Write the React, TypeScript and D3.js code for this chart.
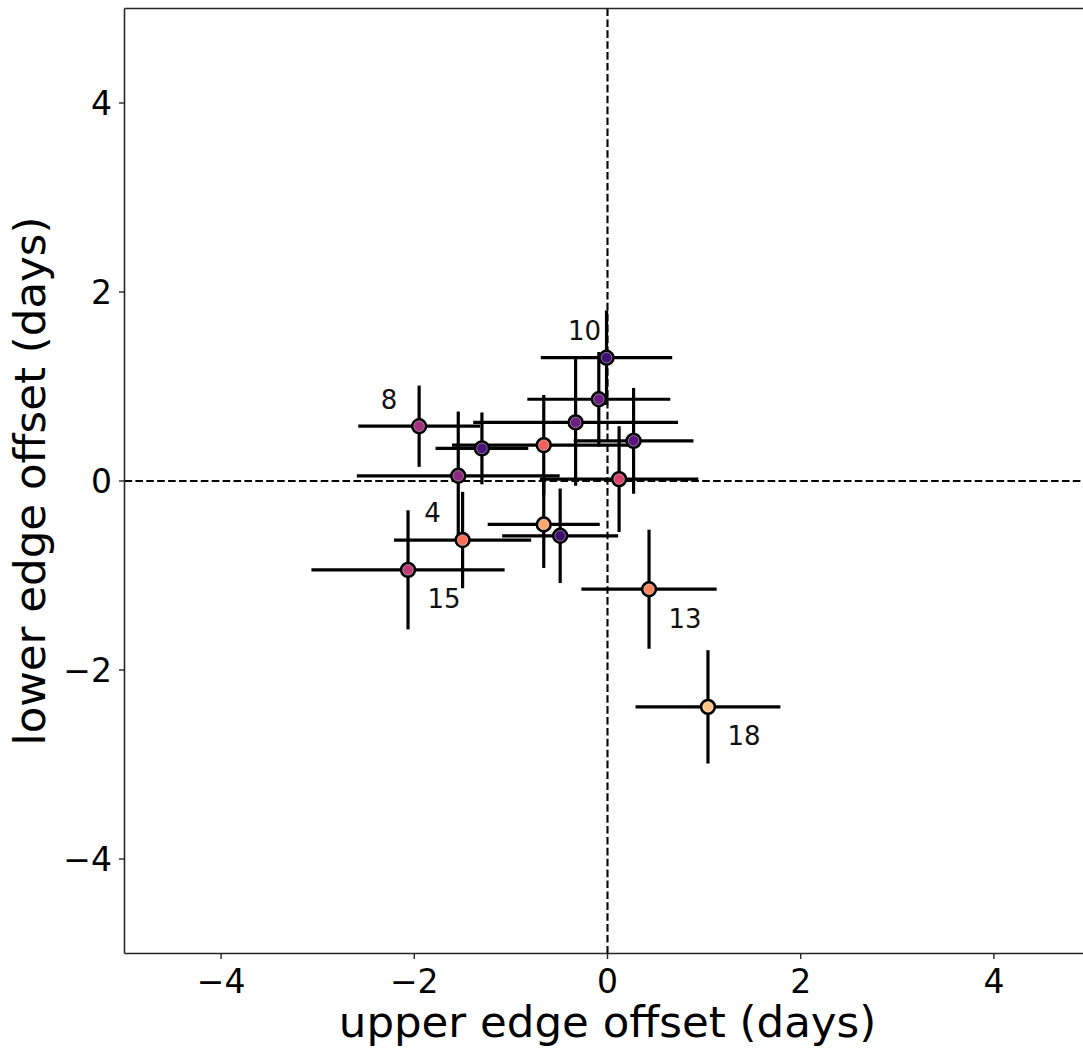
import React from "react";
import * as d3 from "d3";

// ---- data ----
const xValues = [-0.01, -0.09, -0.33, 0.27, 0.12, -0.66, -1.30, -1.95, -1.545, -1.50, -2.065, -0.66, -0.49, 0.43, 1.04];
const yValues = [1.305, 0.865, 0.62, 0.425, 0.02, 0.38, 0.345, 0.58, 0.055, -0.625, -0.94, -0.46, -0.58, -1.145, -2.39];
const xErrors = [0.68, 0.74, 1.06, 0.62, 0.82, 0.95, 0.48, 0.63, 1.05, 0.71, 1.0, 0.58, 0.60, 0.70, 0.75];
const yErrors = [0.50, 0.50, 0.67, 0.56, 0.56, 0.53, 0.38, 0.43, 0.68, 0.51, 0.63, 0.46, 0.50, 0.63, 0.60];
const pointColors = [
  "#3f0f72", "#6a1c81", "#6e1e81", "#5a167e", "#d8456c", "#f1605d", "#4c117a",
  "#a3307e", "#8a2882", "#f7705c", "#c03a76", "#fea772", "#3b0f70", "#fb8861", "#fec488",
];
// annotations: point index and text
const annotIndex = [0, 7, 9, 10, 13, 14];
const annotText = ["10", "8", "4", "15", "13", "18"];
const xTicks = [-4, -2, 0, 2, 4];
const yTicks = [-4, -2, 0, 2, 4];
const xLabel = "upper edge offset (days)";
const yLabel = "lower edge offset (days)";

// ---- layout ----
const W = 1083;
const H = 1049;
const left = 124.5;
const right = 1090.5;
const top = 8.5;
const bottom = 953.5;
const annotOffsets: [number, number][] = [
  [-22, -27], [-30, -27], [-30, -27], [36, 29], [36, 29], [36, 29],
];

const FONT = "'DejaVu Sans', sans-serif";

export default function App() {
  const x = d3.scaleLinear().domain([-5, 5]).range([left, right]);
  const y = d3.scaleLinear().domain([-5, 5]).range([bottom, top]);
  const idx = d3.range(xValues.length);
  const ink = "#000";

  return (
    <div style={{ position: "absolute", left: 0, top: 0, width: W, height: H, background: "#fff" }}>
      <svg width={W} height={H} style={{ display: "block" }}>
        <rect x={0} y={0} width={W} height={H} fill="#fff" />
        {/* reference dashed lines */}
        <line x1={left} x2={right} y1={y(0)} y2={y(0)} stroke={ink} strokeWidth={2.1} strokeDasharray="7.6,3.3" />
        <line x1={x(0)} x2={x(0)} y1={top} y2={bottom} stroke={ink} strokeWidth={2.1} strokeDasharray="7.6,3.3" />
        {/* error bars */}
        <g stroke={ink} strokeWidth={3.2}>
          {idx.map((i) => (
            <g key={"e" + i}>
              <line x1={x(xValues[i] - xErrors[i])} x2={x(xValues[i] + xErrors[i])} y1={y(yValues[i])} y2={y(yValues[i])} />
              <line x1={x(xValues[i])} x2={x(xValues[i])} y1={y(yValues[i] - yErrors[i])} y2={y(yValues[i] + yErrors[i])} />
            </g>
          ))}
        </g>
        {/* markers */}
        {idx.map((i) => (
          <g key={"m" + i}>
            <circle cx={x(xValues[i])} cy={y(yValues[i])} r={6.8} fill={pointColors[i]} stroke={ink} strokeWidth={2.8} />
            <circle cx={x(xValues[i])} cy={y(yValues[i])} r={5.3} fill="none" stroke="#fff" strokeOpacity={0.6} strokeWidth={0.7} />
          </g>
        ))}
        {/* annotations */}
        {annotIndex.map((pi, k) => (
          <text
            key={"a" + k}
            x={x(xValues[pi]) + annotOffsets[k][0]}
            y={y(yValues[pi]) + annotOffsets[k][1]}
            dy="0.36em"
            textAnchor="middle"
            fontFamily={FONT}
            fontSize={26}
            fill="#111"
          >
            {annotText[k]}
          </text>
        ))}
        {/* spines */}
        <g stroke="#262626" strokeWidth={1.6} fill="none">
          <line x1={left} x2={left} y1={top} y2={bottom} />
          <line x1={left} x2={right} y1={bottom} y2={bottom} />
          <line x1={left} x2={right} y1={top} y2={top} />
          <line x1={right} x2={right} y1={top} y2={bottom} />
        </g>
        {/* x ticks */}
        {xTicks.map((t) => (
          <g key={"xt" + t}>
            <line x1={x(t)} x2={x(t)} y1={bottom} y2={bottom + 5.5} stroke="#262626" strokeWidth={1.4} />
            <text x={x(t)} y={993} textAnchor="middle" fontFamily={FONT} fontSize={33} fill="#000">
              {t < 0 ? "\u2212" + Math.abs(t) : String(t)}
            </text>
          </g>
        ))}
        {/* y ticks */}
        {yTicks.map((t) => (
          <g key={"yt" + t}>
            <line x1={left - 5.5} x2={left} y1={y(t)} y2={y(t)} stroke="#262626" strokeWidth={1.4} />
            <text x={112} y={y(t)} dy="0.36em" textAnchor="end" fontFamily={FONT} fontSize={33} fill="#000">
              {t < 0 ? "\u2212" + Math.abs(t) : String(t)}
            </text>
          </g>
        ))}
        {/* axis labels */}
        <text x={(left + right) / 2} y={1037} textAnchor="middle" fontFamily={FONT} fontSize={43.5} fill="#000">
          {xLabel}
        </text>
        <text
          transform={`translate(45,${(top + bottom) / 2}) rotate(-90)`}
          textAnchor="middle"
          fontFamily={FONT}
          fontSize={43.5}
          fill="#000"
        >
          {yLabel}
        </text>
      </svg>
    </div>
  );
}
